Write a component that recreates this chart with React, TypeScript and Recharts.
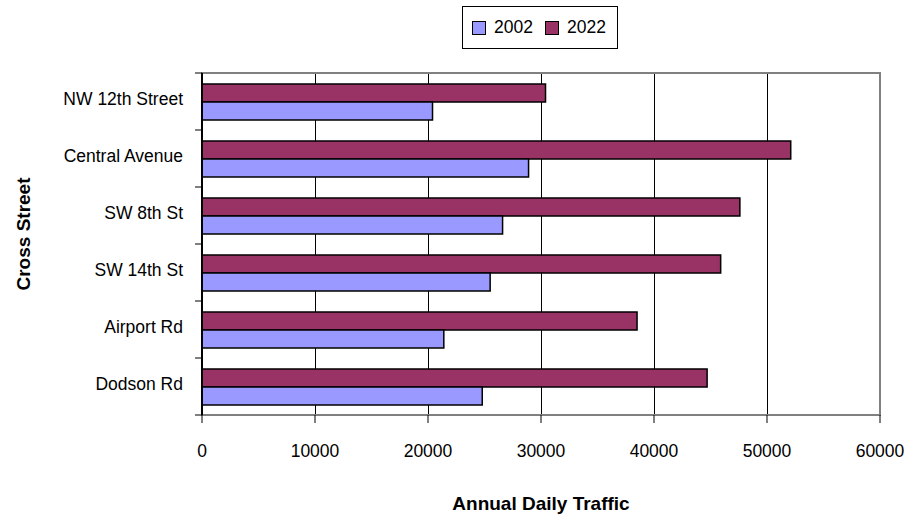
import React from 'react';
import { BarChart, Bar, XAxis, YAxis, CartesianGrid, ReferenceArea } from 'recharts';

const streets = ['NW 12th Street', 'Central Avenue', 'SW 8th St', 'SW 14th St', 'Airport Rd', 'Dodson Rd'];
const traffic2002 = [20400, 28900, 26600, 25500, 21400, 24800];
const traffic2022 = [30400, 52100, 47600, 45900, 38500, 44700];
const xTicks = [0, 10000, 20000, 30000, 40000, 50000, 60000];
const seriesNames = ['2002', '2022'];

const COLOR_2002 = '#9999ff';
const COLOR_2022 = '#993366';
const FONT = '"Liberation Sans", Arial, sans-serif';
const TEXT_SIZE = 17.5;

const data = streets.map((street, i) => ({
    street,
    y2002: traffic2002[i],
    y2022: traffic2022[i],
}));

// category label at the band centre, tick marks at the band edges
const StreetTick = (props: any) => {
    const { x, y, payload, index } = props;
    const half = payload?.offset || 28.5;
    const axisX = x + 19;
    return (
        <g>
            <line x1={axisX - 7} x2={axisX} y1={y - half} y2={y - half} stroke="#000" />
            {index === streets.length - 1 && (
                <line x1={axisX - 7} x2={axisX} y1={y + half} y2={y + half} stroke="#000" />
            )}
            <text x={x} y={y} dy={3} textAnchor="end" fontSize={TEXT_SIZE} fontFamily={FONT} fill="#000">
                {payload.value}
            </text>
        </g>
    );
};

const YTitle = (props: any) => {
    const { viewBox } = props;
    const tx = viewBox.x + 30;
    const ty = viewBox.y + viewBox.height / 2 - 10;
    return (
        <text
            x={tx}
            y={ty}
            transform={`rotate(-90 ${tx} ${ty})`}
            textAnchor="middle"
            fontSize={19}
            fontWeight="bold"
            fontFamily={FONT}
            fill="#000"
        >
            Cross Street
        </text>
    );
};

const Swatch = ({ color }: { color: string }) => (
    <span
        style={{
            display: 'inline-block',
            width: 12,
            height: 12,
            background: color,
            border: '1.5px solid #000',
            marginRight: 8,
        }}
    />
);

const App = () => {
    const colors = [COLOR_2002, COLOR_2022];
    return (
        <div style={{ position: 'absolute', left: 0, top: 0, width: 913, height: 518, background: '#fff' }}>
            <BarChart
                width={913}
                height={518}
                data={data}
                layout="vertical"
                margin={{ top: 73, right: 33, left: 0, bottom: 0 }}
                barCategoryGap={11}
                barGap={0}
            >
                <CartesianGrid horizontal={false} stroke="#000" strokeWidth={1} shapeRendering="crispEdges" />
                <ReferenceArea x1={0} x2={60000} fill="none" stroke="#808080" strokeWidth={2} />
                <XAxis
                    type="number"
                    domain={[0, 60000]}
                    ticks={xTicks}
                    height={103}
                    tickSize={8}
                    tickMargin={22}
                    axisLine={{ stroke: '#808080', strokeWidth: 2 }}
                    tickLine={{ stroke: '#000' }}
                    tick={{ fontSize: TEXT_SIZE, fontFamily: FONT, fill: '#000' }}
                    label={{
                        value: 'Annual Daily Traffic',
                        position: 'insideBottom',
                        offset: 8,
                        fontSize: 19,
                        fontWeight: 'bold',
                        fontFamily: FONT,
                        fill: '#000',
                    }}
                />
                <YAxis
                    type="category"
                    dataKey="street"
                    width={202}
                    tickSize={7}
                    tickMargin={12}
                    tickLine={false}
                    axisLine={{ stroke: '#000', strokeWidth: 2 }}
                    tick={<StreetTick />}
                    interval={0}
                    label={<YTitle />}
                />
                <Bar dataKey="y2022" fill={COLOR_2022} stroke="#000" strokeWidth={1.5} isAnimationActive={false} />
                <Bar dataKey="y2002" fill={COLOR_2002} stroke="#000" strokeWidth={1.5} isAnimationActive={false} />
            </BarChart>

            <div
                style={{
                    position: 'absolute',
                    left: 462,
                    top: 6,
                    width: 156,
                    height: 43,
                    border: '1px solid #000',
                    background: '#fff',
                    display: 'flex',
                    alignItems: 'center',
                    paddingLeft: 9,
                    boxSizing: 'border-box',
                    fontFamily: FONT,
                    fontSize: TEXT_SIZE,
                    color: '#000',
                }}
            >
                {seriesNames.map((name, i) => (
                    <span key={name} style={{ display: 'flex', alignItems: 'center', marginRight: 12 }}>
                        <Swatch color={colors[i]} />
                        {name}
                    </span>
                ))}
            </div>
        </div>
    );
};

export default App;
